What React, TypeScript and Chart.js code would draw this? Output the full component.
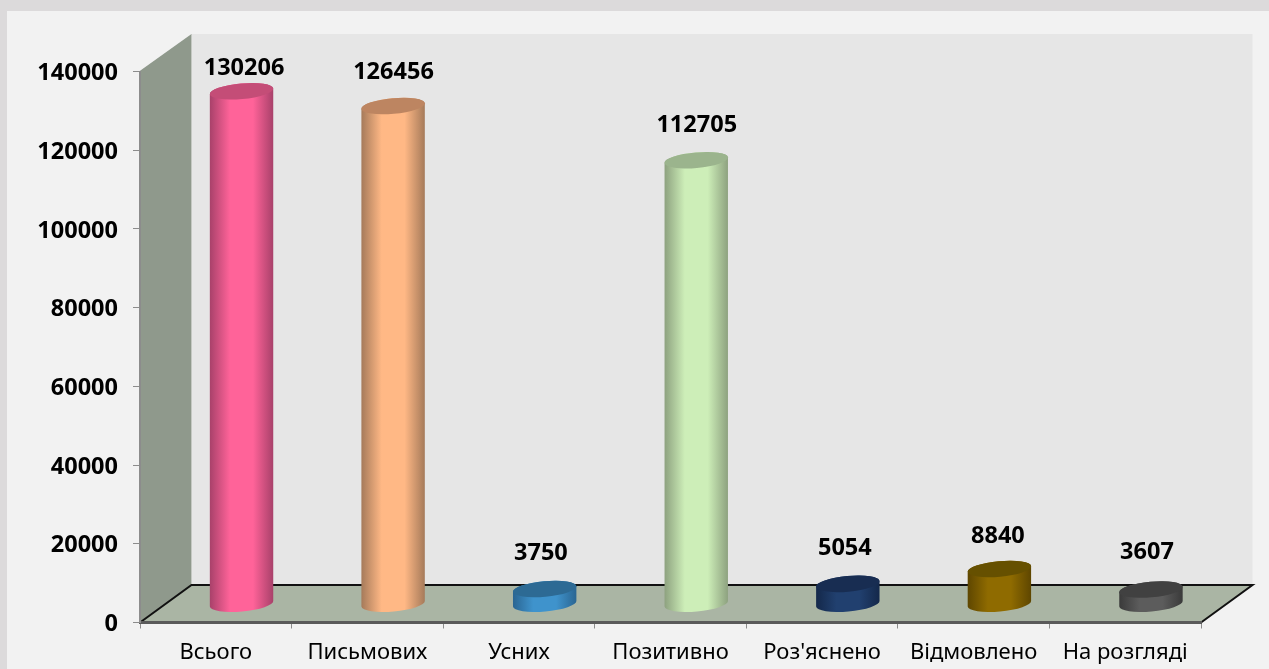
import React, { useEffect, useRef } from "react";
import { Chart, registerables } from "chart.js";

Chart.register(...registerables);

const categories = ["Всього", "Письмових", "Усних", "Позитивно", "Роз'яснено", "Відмовлено", "На розгляді"];
const values = [130206, 126456, 3750, 112705, 5054, 8840, 3607];
const yTicks = [0, 20000, 40000, 60000, 80000, 100000, 120000, 140000];

const bodyColors = ["#ff6399", "#ffb885", "#3f93cc", "#cdeeb8", "#21406f", "#8f6b00", "#5c5c5c"];
const edgeColors = ["#a8416a", "#a57a5a", "#2a6592", "#8da17f", "#14284a", "#5e4600", "#3a3a3a"];
const topColors = ["#c44d77", "#bd8561", "#2d6a94", "#9bb48d", "#182d52", "#665000", "#414141"];

// hand-placed offsets of the value labels, as in the source slide
const labelLift = [23, 34, 36, 35, 36, 33, 37];
const labelShift = [2.5, 0.4, -3.8, 0.5, -3, -1.5, -4];

const DEPTH_X = 51.5;
const DEPTH_Y = 37.5;
const TILT = -0.09;
const RY = 7.8;

const scenePlugin = {
  id: "scene",
  beforeDraw(chart: any) {
    const { ctx, chartArea: a, width, height } = chart;
    ctx.save();
    ctx.fillStyle = "#dcdadb";
    ctx.fillRect(0, 0, width, height);
    ctx.fillStyle = "#f2f2f2";
    ctx.fillRect(7, 11, width - 7, height - 11);
    // back wall
    ctx.fillStyle = "#e6e6e6";
    ctx.fillRect(a.left + DEPTH_X, a.top - DEPTH_Y, a.width, a.height);
    // left wall
    ctx.fillStyle = "#8f998c";
    ctx.beginPath();
    ctx.moveTo(a.left - 1, a.top);
    ctx.lineTo(a.left + DEPTH_X, a.top - DEPTH_Y);
    ctx.lineTo(a.left + DEPTH_X, a.bottom - DEPTH_Y);
    ctx.lineTo(a.left - 1, a.bottom);
    ctx.closePath();
    ctx.fill();
    ctx.strokeStyle = "#c4c8c2";
    ctx.lineWidth = 1;
    ctx.beginPath();
    ctx.moveTo(a.left + DEPTH_X, a.top - DEPTH_Y);
    ctx.lineTo(a.left + DEPTH_X, a.bottom - DEPTH_Y);
    ctx.stroke();
    // floor
    ctx.fillStyle = "#aab5a4";
    ctx.beginPath();
    ctx.moveTo(a.left, a.bottom);
    ctx.lineTo(a.left + DEPTH_X, a.bottom - DEPTH_Y);
    ctx.lineTo(a.right + DEPTH_X, a.bottom - DEPTH_Y);
    ctx.lineTo(a.right, a.bottom);
    ctx.closePath();
    ctx.fill();
    ctx.strokeStyle = "#111111";
    ctx.lineWidth = 2;
    ctx.beginPath();
    ctx.moveTo(a.left, a.bottom);
    ctx.lineTo(a.left + DEPTH_X, a.bottom - DEPTH_Y);
    ctx.lineTo(a.right + DEPTH_X, a.bottom - DEPTH_Y);
    ctx.lineTo(a.right, a.bottom);
    ctx.stroke();
    ctx.restore();
    // Noto Sans digits sit high on a middle baseline: nudge the y labels down once per layout
    const yScale = chart.scales.y;
    const items = yScale.getLabelItems();
    if (!(items as any).__nudged) {
      items.forEach((it: any) => {
        it.options.translation[1] += 2;
      });
      (items as any).__nudged = true;
    }
  },
  beforeDatasetDraw(chart: any, args: any) {
    const { ctx } = chart;
    const ds = chart.data.datasets[args.index];
    const meta = chart.getDatasetMeta(args.index);
    ctx.save();
    meta.data.forEach((el: any, i: number) => {
      const cx = el.x + DEPTH_X / 2;
      const yTop = el.y - DEPTH_Y / 2;
      const yBase = el.base - DEPTH_Y / 2;
      const rx = el.width / 2;
      const g = ctx.createLinearGradient(cx - rx, 0, cx + rx, 0);
      g.addColorStop(0, edgeColors[i]);
      g.addColorStop(0.32, ds.backgroundColor[i]);
      g.addColorStop(0.68, ds.backgroundColor[i]);
      g.addColorStop(1, edgeColors[i]);
      ctx.fillStyle = g;
      ctx.beginPath();
      ctx.ellipse(cx, yBase + 0.5, rx, RY, TILT, 0, Math.PI);
      ctx.ellipse(cx, yTop, rx, RY, TILT, Math.PI, Math.PI * 2);
      ctx.closePath();
      ctx.fill();
      ctx.fillStyle = topColors[i];
      ctx.beginPath();
      ctx.ellipse(cx, yTop, rx, RY, TILT, 0, Math.PI * 2);
      ctx.fill();
    });
    ctx.restore();
    return false;
  },
  afterDatasetsDraw(chart: any) {
    const { ctx } = chart;
    const meta = chart.getDatasetMeta(0);
    ctx.save();
    ctx.fillStyle = "#000000";
    ctx.font = "bold 23.5px 'Noto Sans'";
    ctx.textAlign = "center";
    ctx.textBaseline = "middle";
    meta.data.forEach((el: any, i: number) => {
      const cx = el.x + DEPTH_X / 2 + labelShift[i];
      const yTop = el.y - DEPTH_Y / 2;
      ctx.fillText(String(values[i]), cx, yTop - labelLift[i]);
    });
    ctx.restore();
  },
};

export default function App() {
  const ref = useRef<HTMLCanvasElement>(null);
  useEffect(() => {
    const chart = new Chart(ref.current as HTMLCanvasElement, {
      type: "bar",
      data: {
        labels: categories,
        datasets: [
          {
            data: values,
            backgroundColor: bodyColors,
            categoryPercentage: 1,
            barPercentage: 0.42,
          },
        ],
      },
      options: {
        responsive: false,
        animation: false,
        devicePixelRatio: 1,
        layout: { padding: { left: 0, top: 71.5, right: 68, bottom: 0 } },
        plugins: { legend: { display: false }, tooltip: { enabled: false }, title: { display: false } },
        scales: {
          x: {
            afterFit: (s: any) => {
              s.height = 46.5;
            },
            grid: { drawOnChartArea: false, drawTicks: true, tickLength: 6, color: "#8c8c8c", offset: true },
            border: { color: "#5a5a5a", width: 3 },
            ticks: {
              autoSkip: false,
              maxRotation: 0,
              color: "#000000",
              padding: 11,
              font: { family: "'Noto Sans'", size: 22 },
            },
          },
          y: {
            min: 0,
            max: 140000,
            afterFit: (s: any) => {
              s.width = 140;
            },
            afterBuildTicks: (s: any) => {
              s.ticks = yTicks.map((value) => ({ value }));
            },
            grid: { drawOnChartArea: false, drawTicks: true, tickLength: 7, color: "#8c8c8c" },
            border: { color: "#8c8c8c", width: 2 },
            ticks: {
              color: "#000000",
              padding: 15,
              callback: (v: any) => String(v),
              font: { family: "'Noto Sans'", size: 23.5, weight: "bold" },
            },
          },
        },
      },
      plugins: [scenePlugin],
    } as any);
    return () => chart.destroy();
  }, []);
  return (
    <div style={{ position: "fixed", left: 0, top: 0, width: 1269, height: 669, overflow: "hidden" }}>
      <canvas ref={ref} width={1269} height={669} style={{ display: "block" }} />
    </div>
  );
}
